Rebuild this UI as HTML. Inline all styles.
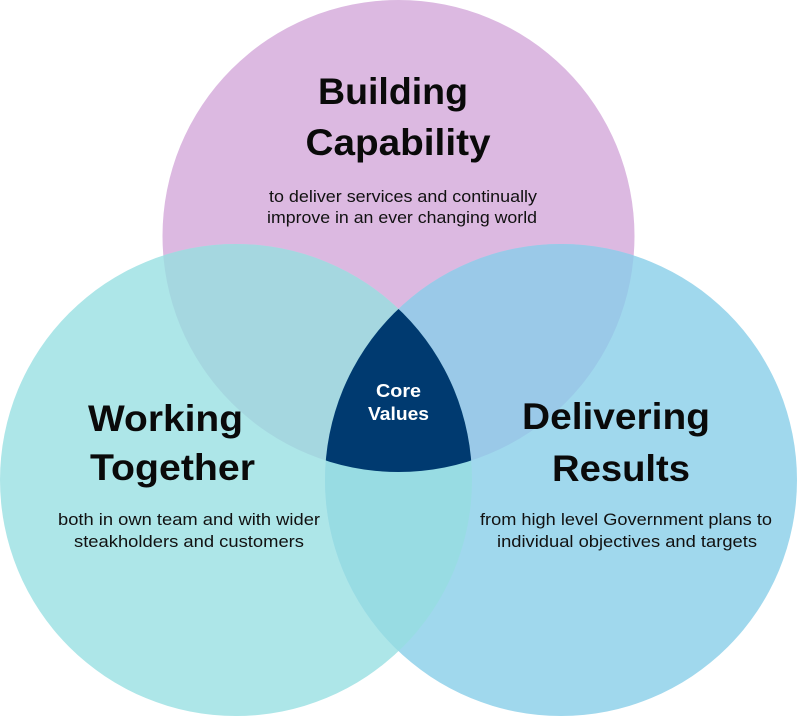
<!DOCTYPE html>
<html>
<head>
<meta charset="utf-8">
<style>
  html, body { margin: 0; padding: 0; background: #ffffff; }
  body { width: 797px; height: 716px; overflow: hidden; }
  svg { display: block; }
  .h { font-family: "Liberation Sans", sans-serif; font-weight: bold; font-size: 37px; fill: #0a0a0a; }
  .s { font-family: "Liberation Sans", sans-serif; font-size: 17px; fill: #111111; }
  .c { font-family: "Liberation Sans", sans-serif; font-weight: bold; font-size: 18.5px; fill: #ffffff; }
</style>
</head>
<body>
<svg width="797" height="716" viewBox="0 0 797 716" xmlns="http://www.w3.org/2000/svg">
  <defs>
    <clipPath id="cTop"><circle cx="398.5" cy="236" r="236"/></clipPath>
    <clipPath id="cLeft"><circle cx="236" cy="480" r="236"/></clipPath>
    <clipPath id="cRight"><circle cx="561" cy="480" r="236"/></clipPath>
  </defs>

  <!-- base circles -->
  <circle cx="398.5" cy="236" r="236" fill="#dcb9e1"/>
  <circle cx="236" cy="480" r="236" fill="#ade6e8"/>
  <circle cx="561" cy="480" r="236" fill="#a0d8ed"/>

  <!-- pairwise overlaps -->
  <circle cx="236" cy="480" r="236" fill="#a5d7e0" clip-path="url(#cTop)"/>
  <circle cx="561" cy="480" r="236" fill="#9ac9e8" clip-path="url(#cTop)"/>
  <circle cx="561" cy="480" r="236" fill="#98dce3" clip-path="url(#cLeft)"/>

  <!-- triple overlap -->
  <g clip-path="url(#cTop)">
    <circle cx="561" cy="480" r="236" fill="#003a70" clip-path="url(#cLeft)"/>
  </g>

  <!-- Building Capability -->
  <text class="h" x="393" y="104" text-anchor="middle" textLength="150" lengthAdjust="spacingAndGlyphs">Building</text>
  <text class="h" x="398" y="155" text-anchor="middle" textLength="185" lengthAdjust="spacingAndGlyphs">Capability</text>
  <text class="s" x="403" y="202" text-anchor="middle" textLength="268" lengthAdjust="spacingAndGlyphs">to deliver services and continually</text>
  <text class="s" x="402" y="223" text-anchor="middle" textLength="270" lengthAdjust="spacingAndGlyphs">improve in an ever changing world</text>

  <!-- Working Together -->
  <text class="h" x="165.5" y="431" text-anchor="middle" textLength="155" lengthAdjust="spacingAndGlyphs">Working</text>
  <text class="h" x="172.5" y="480" text-anchor="middle" textLength="165" lengthAdjust="spacingAndGlyphs">Together</text>
  <text class="s" x="189" y="525" text-anchor="middle" textLength="262" lengthAdjust="spacingAndGlyphs">both in own team and with wider</text>
  <text class="s" x="189" y="547" text-anchor="middle" textLength="230" lengthAdjust="spacingAndGlyphs">steakholders and customers</text>

  <!-- Delivering Results -->
  <text class="h" x="616" y="429" text-anchor="middle" textLength="188" lengthAdjust="spacingAndGlyphs">Delivering</text>
  <text class="h" x="621" y="481" text-anchor="middle" textLength="138" lengthAdjust="spacingAndGlyphs">Results</text>
  <text class="s" x="626" y="525" text-anchor="middle" textLength="292" lengthAdjust="spacingAndGlyphs">from high level Government plans to</text>
  <text class="s" x="627" y="547" text-anchor="middle" textLength="260" lengthAdjust="spacingAndGlyphs">individual objectives and targets</text>

  <!-- Core Values -->
  <text class="c" x="398.5" y="397" text-anchor="middle" textLength="45" lengthAdjust="spacingAndGlyphs">Core</text>
  <text class="c" x="398.5" y="420" text-anchor="middle" textLength="61" lengthAdjust="spacingAndGlyphs">Values</text>
</svg>
</body>
</html>
